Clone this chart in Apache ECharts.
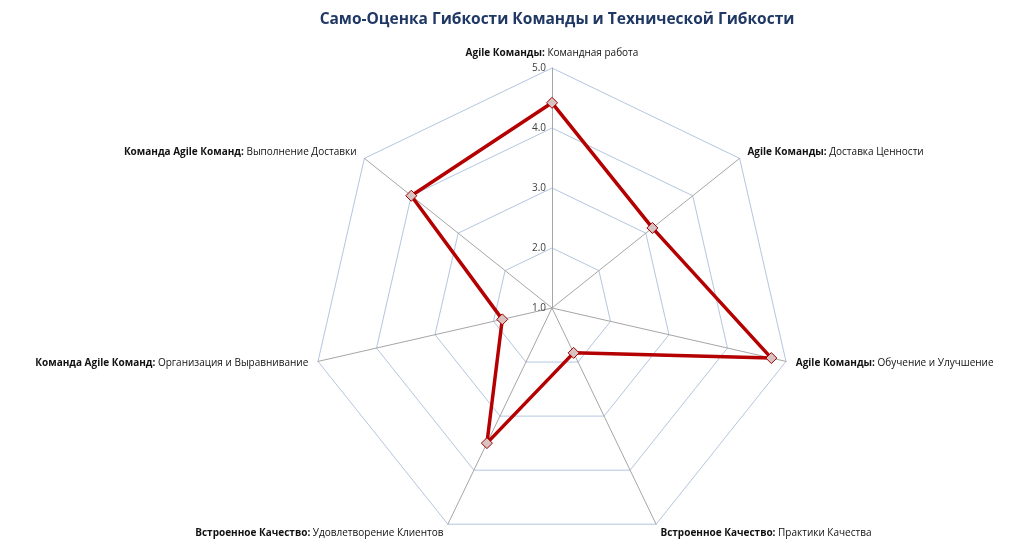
<!DOCTYPE html>
<html>
<head>
<meta charset="utf-8">
<script src="https://cdn.jsdelivr.net/npm/echarts@6/dist/echarts.min.js"></script>
<style>
  html, body { margin: 0; padding: 0; background: #fff; }
  #chart { width: 1024px; height: 551px; }
</style>
</head>
<body>
<div id="chart"></div>
<script>
// группы (жирная часть подписи) и практики, по часовой стрелке от верха
var groups = [
    'Agile Команды:',
    'Agile Команды:',
    'Agile Команды:',
    'Встроенное Качество:',
    'Встроенное Качество:',
    'Команда Agile Команд:',
    'Команда Agile Команд:'
];
var practices = [
    'Командная работа',
    'Доставка Ценности',
    'Обучение и Улучшение',
    'Практики Качества',
    'Удовлетворение Клиентов',
    'Организация и Выравнивание',
    'Выполнение Доставки'
];
var scores = [4.42, 3.14, 4.75, 1.83, 3.5, 1.85, 4.0];
var tickLabels = ['1.0', '2.0', '3.0', '4.0', '5.0'];

var chart = echarts.init(document.getElementById('chart'));

// radar в echarts идёт против часовой — переставляем оси
var order = [0, 6, 5, 4, 3, 2, 1];

var indicators = order.map(function (i) {
    var ind = { name: groups[i] + '|' + practices[i], min: 1, max: 5 };
    if (i === 0) {
        // шкала только на верхней оси
        ind.axisLabel = {
            show: true,
            color: '#404040',
            fontSize: 10,
            fontFamily: 'Open Sans',
            margin: 6,
            formatter: function (v) { return tickLabels[Math.round(v) - 1] || ''; }
        };
    }
    return ind;
});
var values = order.map(function (i) { return scores[i]; });

var option = {
    backgroundColor: '#ffffff',
    title: {
        text: 'Само-Оценка Гибкости Команды и Технической Гибкости',
        left: 552,
        textAlign: 'center',
        top: 7,
        textStyle: {
            color: '#1f3864',
            fontSize: 15.5,
            fontWeight: 'bold',
            fontFamily: 'Open Sans'
        }
    },
    radar: {
        center: [552, 308],
        radius: 240,
        startAngle: 90,
        splitNumber: 4,
        shape: 'polygon',
        indicator: indicators,
        nameGap: 10,
        axisName: {
            color: '#111',
            fontSize: 10,
            fontFamily: 'Open Sans',
            formatter: function (name) {
                var parts = name.split('|');
                return '{b|' + parts[0] + '} ' + parts[1];
            },
            rich: {
                b: { fontWeight: 'bold', fontSize: 10, fontFamily: 'Open Sans', color: '#111' }
            }
        },
        axisLine: { lineStyle: { color: '#a6a6a6', width: 1 } },
        splitLine: { lineStyle: { color: '#b4c6e0', width: 1 } },
        splitArea: { show: false },
        axisLabel: { show: false },
        axisTick: { show: false }
    },
    series: [{
        type: 'radar',
        symbol: 'diamond',
        symbolSize: 11,
        lineStyle: { color: '#b40000', width: 3.5 },
        itemStyle: { color: '#d9c2c2', borderColor: '#a00000', borderWidth: 1 },
        data: [{ value: values, name: 'Оценка' }]
    }]
};

chart.setOption(option);
</script>
</body>
</html>
